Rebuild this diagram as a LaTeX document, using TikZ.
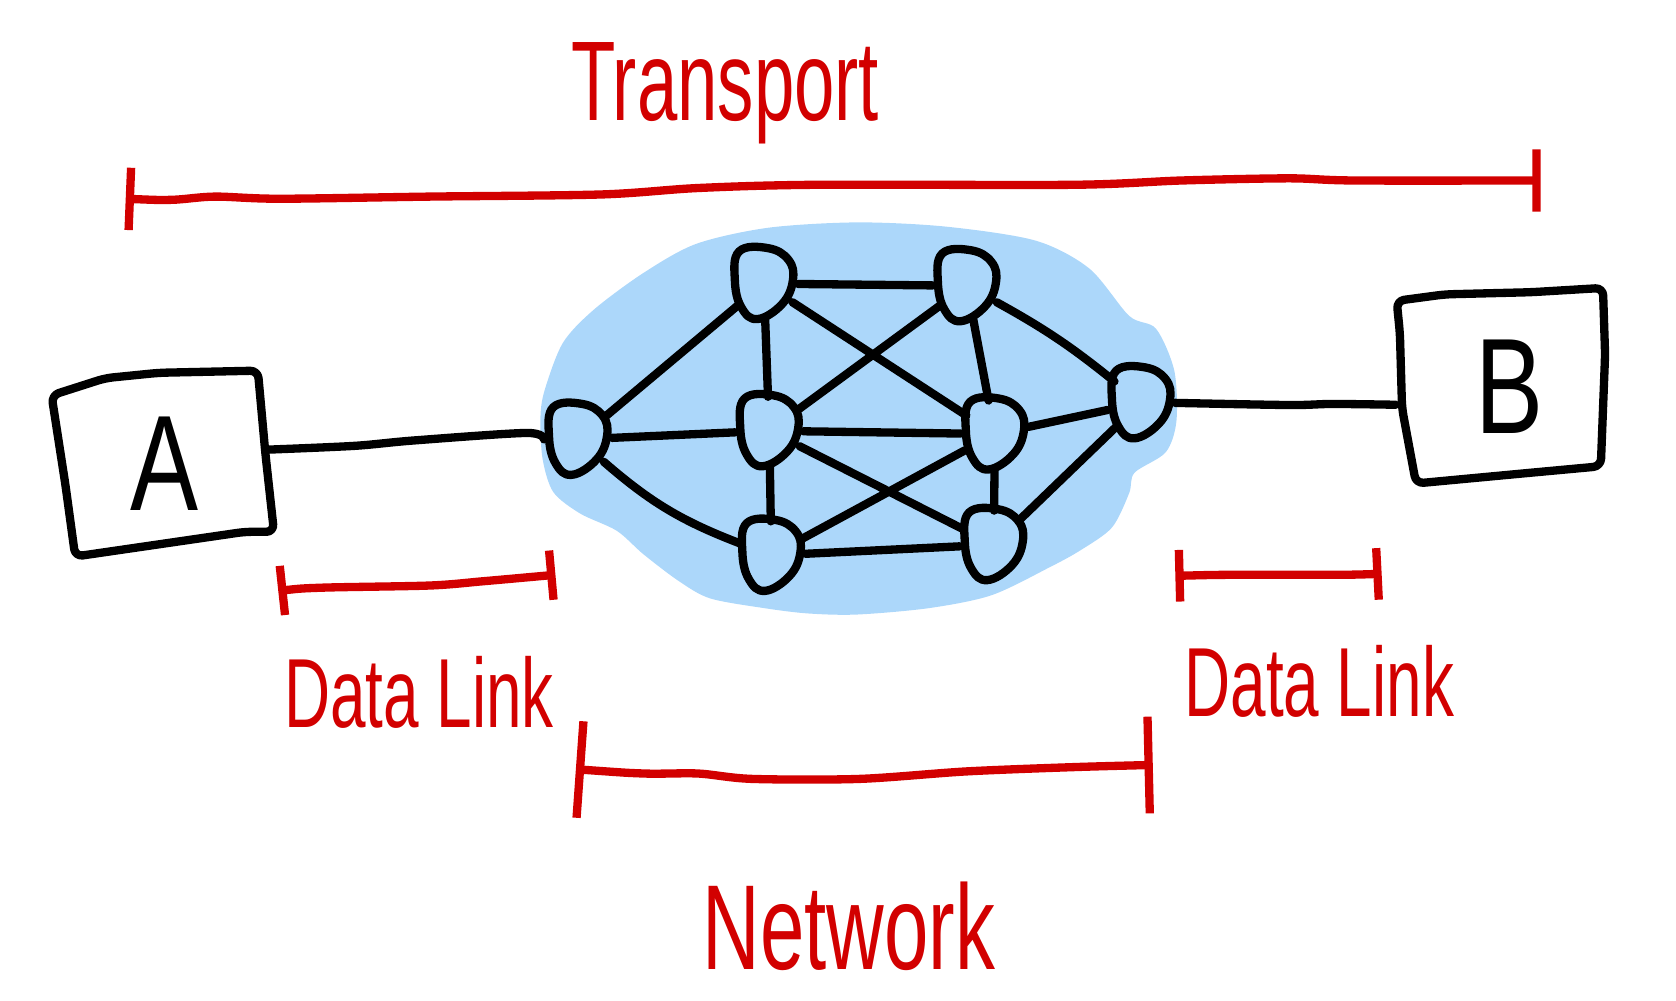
\documentclass[tikz,border=0pt]{standalone}
\usepackage{fontspec}
\setmainfont{Liberation Sans}
\usetikzlibrary{arrows.meta}
\definecolor{inkred}{RGB}{210,0,0}
\definecolor{cloudblue}{RGB}{172,215,250}
\newcommand{\narrow}[2][0.65]{\scalebox{#1}[1]{#2}}

\begin{document}
\begin{tikzpicture}[x=0.01cm, y=0.01cm,
  ink/.style={line width=2.2pt, line cap=round, line join=round},
  router/.style={circle, minimum size=0.62cm, inner sep=0pt},
  host/.style={rectangle, minimum width=1.9cm, minimum height=1.5cm, inner sep=0pt, font=\fontsize{36}{40}\selectfont},
  layer/.style={text=inkred, anchor=base},
  spanline/.style={draw=inkred, line width=2.2pt, line cap=round, arrows={Bar[width=#1]-Bar[width=#1]}}]
\useasboundingbox (0,0) rectangle (1560,-931);

\fill[cloudblue] plot[smooth cycle] coordinates {(507,-363) (524,-319) (553,-288) (599,-254) (648,-227) (715,-212) (798,-207) (881,-211) (964,-224) (1014,-250) (1051,-294) (1076,-306) (1093,-345) (1095,-392) (1085,-421) (1056,-440) (1051,-459) (1035,-491) (1006,-512) (977,-528) (923,-554) (865,-566) (798,-572) (752,-571) (711,-566) (661,-557) (632,-541) (599,-516) (574,-494) (540,-478) (515,-458) (505,-427) (503,-389)};

\node[host] (a) at (153,-432) {\narrow[0.75]{A}};
\node[host, minimum width=2.1cm] (b) at (1405,-360) {\narrow[0.75]{B}};
\draw[ink, shift={(a.center)}, rounded corners=2] (-105,64) -- (-55,80) -- (-5,85) -- (87,87) -- (94,10) -- (102,-63) -- (75,-63) -- (-83,-86) -- (-92,-20) -- cycle;
\draw[ink, shift={(b.center)}, rounded corners=2] (-105,80) -- (-60,86) -- (20,88) -- (87,92) -- (89,30) -- (85,-74) -- (20,-80) -- (-87,-90) -- (-100,-20) -- (-102,50) -- cycle;

\node[router] (r1) at (538,-409) {};
\node[router] (r2) at (711,-264) {};
\node[router] (r3) at (900,-266) {};
\node[router] (r4) at (716,-401) {};
\node[router] (r5) at (926,-404) {};
\node[router] (r6) at (1062,-375) {};
\node[router] (r7) at (718,-517) {};
\node[router] (r8) at (925,-507) {};

\draw[ink] (r1) -- (r2) (r1) -- (r4) (r1) to[bend right=10] (r7)
  (r2) -- (r3) (r2) -- (r4) (r2) -- (r5)
  (r3) -- (r4) (r3) -- (r5) (r3) to[bend left=5] (r6)
  (r4) -- (r5) (r4) -- (r7) (r4) -- (r8)
  (r5) -- (r7) (r5) -- (r6) (r5) -- (r8)
  (r6) -- (r8) (r7) -- (r8);
\draw[ink] plot[smooth] coordinates {(a.8) (330,-415) (385,-410) (490,-403) (r1.west)};
\draw[ink] plot[smooth] coordinates {(r6.east) (1200,-377) (1240,-376) (b.189)};

\foreach \i in {1,...,8}
  \draw[ink, shift={(r\i.center)}] plot[smooth cycle, tension=0.7] coordinates {(-23,30) (4,33) (23,22) (27,3) (17,-19) (-6,-33) (-21,-22) (-27,3)};

\coordinate (tl) at (117,-185);
\coordinate (tr) at (1434,-168);
\coordinate (dl1) at (259,-550);
\coordinate (dl2) at (517,-535);
\coordinate (dr1) at (1094,-536);
\coordinate (dr2) at (1286,-534);
\coordinate (nl) at (536,-716);
\coordinate (nr) at (1073,-712);

\draw[spanline=0.58cm] plot[smooth] coordinates {(tl) (160,-186) (200,-183) (260,-185) (400,-183) (560,-181) (650,-175) (760,-172) (1000,-172) (1100,-168) (1200,-166) (1260,-168) (tr)};
\draw[spanline=0.46cm] plot[smooth] coordinates {(dl1) (300,-547) (400,-545) (450,-541) (dl2)};
\draw[spanline=0.48cm] plot[smooth] coordinates {(dr1) (1150,-535) (1250,-535) (dr2)};
\draw[spanline=0.9cm] plot[smooth] coordinates {(nl) (600,-720) (650,-720) (700,-725) (800,-725) (900,-718) (1000,-714) (nr)};

\node[layer, font=\fontsize{30}{36}\selectfont] (transport) at (675,-112) {\narrow[0.64]{Transport}};
\node[layer, font=\fontsize{26}{30}\selectfont] (linkleft) at (390,-677) {\narrow{Data Link}};
\node[layer, font=\fontsize{26}{30}\selectfont] (linkright) at (1228,-667) {\narrow{Data Link}};
\node[layer, font=\fontsize{32}{38}\selectfont] (network) at (790,-902) {\narrow[0.66]{Network}};
\end{tikzpicture}
\end{document}
